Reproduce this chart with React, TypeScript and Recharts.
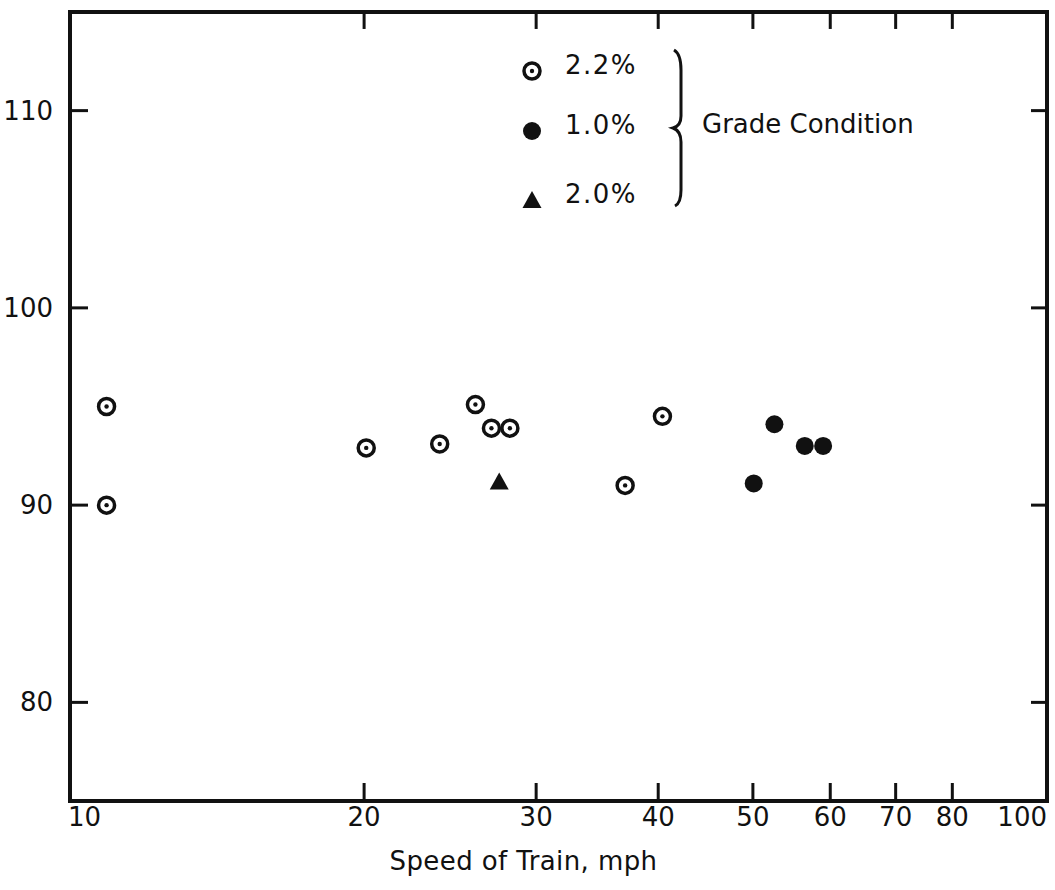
import React from 'react';
import { ScatterChart, Scatter, XAxis, YAxis, Legend, ReferenceLine } from 'recharts';

// speed of train (mph) on a log axis, value on a linear axis
const speedTicks = [10, 20, 30, 40, 50, 60, 70, 80, 100];
const valueTicks = [80, 90, 100, 110];
const speedDomain = [10, 100];
const valueDomain = [75, 115];

const grade22Speed = [10.9, 10.9, 20.1, 23.9, 26.0, 27.0, 28.2, 37.0, 40.4];
const grade22Value = [95.0, 90.0, 92.9, 93.1, 95.1, 93.9, 93.9, 91.0, 94.5];

const grade10Speed = [50.1, 52.6, 56.5, 59.0];
const grade10Value = [91.1, 94.1, 93.0, 93.0];

const grade20Speed = [27.5];
const grade20Value = [91.2];

const toPoints = (xs: number[], ys: number[]) => xs.map((speed, i) => ({ speed, value: ys[i] }));

const FONT = '"DejaVu Sans", sans-serif';
const INK = '#111';

const DotCircle = (props: any) => (
  <g>
    <circle cx={props.cx} cy={props.cy} r={8} fill="#fff" stroke={INK} strokeWidth={3.5} />
    <circle cx={props.cx} cy={props.cy} r={2.2} fill={INK} />
  </g>
);

const FilledCircle = (props: any) => <circle cx={props.cx} cy={props.cy} r={9} fill={INK} />;

const FilledTriangle = (props: any) => {
  const { cx, cy } = props;
  return <polygon points={`${cx},${cy - 9} ${cx - 9.5},${cy + 8} ${cx + 9.5},${cy + 8}`} fill={INK} />;
};

const seriesList = [
  { name: '2.2%', shape: DotCircle, data: toPoints(grade22Speed, grade22Value) },
  { name: '1.0%', shape: FilledCircle, data: toPoints(grade10Speed, grade10Value) },
  { name: '2.0%', shape: FilledTriangle, data: toPoints(grade20Speed, grade20Value) },
];

const SpeedTick = (props: any) => {
  const { x, y, payload } = props;
  const first = payload.value === speedTicks[0];
  const last = payload.value === speedTicks[speedTicks.length - 1];
  const anchor = first ? 'start' : last ? 'end' : 'middle';
  return (
    <text x={first ? x - 2 : x} y={y + 19} textAnchor={anchor} fontFamily={FONT} fontSize={26} fill={INK}>
      {payload.value}
    </text>
  );
};

const ValueTick = (props: any) => (
  <text x={props.x} y={props.y + 9} textAnchor="end" fontFamily={FONT} fontSize={26} fill={INK}>
    {props.payload.value}
  </text>
);

const NoLabel = () => <g />;

const rowY = [31, 91, 160];

const GradeLegend = (props: any) => {
  const names = (props.payload || []).map((e: any) => e.value);
  const rows = seriesList.filter((s) => names.includes(s.name));
  return (
    <svg width={440} height={180} style={{ overflow: 'visible' }}>
      {rows.map((s, i) => {
        const Shape = s.shape;
        return (
          <g key={s.name}>
            <Shape cx={17} cy={rowY[i]} />
            <text x={50} y={rowY[i] + 3} fontFamily={FONT} fontSize={26} letterSpacing={1.5} fill={INK}>
              {s.name}
            </text>
          </g>
        );
      })}
      <path
        d="M 159 10 Q 166 14 166 30 L 166 76 Q 166 86 158 88 Q 166 91 166 102 L 166 150 Q 166 163 160 166"
        fill="none"
        stroke={INK}
        strokeWidth={3}
      />
      <text x={187} y={93} fontFamily={FONT} fontSize={26} fill={INK}>
        Grade Condition
      </text>
    </svg>
  );
};

const frame = { stroke: INK, strokeWidth: 4, strokeLinecap: 'square' as const };
const tickStroke = { stroke: INK, strokeWidth: 3 };

export default function App() {
  const top = valueDomain[1];
  return (
    <div style={{ position: 'absolute', left: 0, top: 0, background: '#fff' }}>
      <ScatterChart width={1055} height={890} margin={{ top: 12, right: 0, bottom: 0, left: 0 }}>
        <XAxis
          xAxisId="bottom"
          dataKey="speed"
          type="number"
          scale="log"
          domain={speedDomain}
          allowDataOverflow
          ticks={speedTicks}
          interval={0}
          height={89}
          axisLine={frame}
          tickLine={tickStroke}
          tickSize={-18}
          tickMargin={24}
          tick={SpeedTick}
          label={{
            content: (p: any) => (
              <text
                x={p.viewBox.x + p.viewBox.width / 2 - 35}
                y={p.viewBox.y + 69}
                textAnchor="middle"
                fontFamily={FONT}
                fontSize={26}
                letterSpacing={0.4}
                fill={INK}
              >
                Speed of Train, mph
              </text>
            ),
          }}
        />
        <YAxis
          yAxisId="left"
          dataKey="value"
          type="number"
          domain={valueDomain}
          allowDataOverflow
          ticks={valueTicks}
          interval={0}
          width={70}
          axisLine={frame}
          tickLine={tickStroke}
          tickSize={-18}
          tickMargin={35}
          tick={ValueTick}
        />
        <YAxis
          yAxisId="right"
          orientation="right"
          type="number"
          domain={valueDomain}
          allowDataOverflow
          ticks={valueTicks}
          interval={0}
          width={8}
          axisLine={frame}
          tickLine={tickStroke}
          tickSize={-16}
          tick={NoLabel}
        />
        {/* top edge of the frame with its inward speed ticks */}
        <ReferenceLine xAxisId="bottom" yAxisId="left" y={top} stroke={INK} strokeWidth={4} />
        {speedTicks.slice(1, -1).map((s) => (
          <ReferenceLine
            key={s}
            xAxisId="bottom"
            yAxisId="left"
            segment={[
              { x: s, y: top },
              { x: s, y: top - 0.86 },
            ]}
            stroke={INK}
            strokeWidth={3}
          />
        ))}
        {seriesList.map((s) => (
          <Scatter
            key={s.name}
            name={s.name}
            data={s.data}
            xAxisId="bottom"
            yAxisId="left"
            fill={INK}
            shape={s.shape}
            isAnimationActive={false}
          />
        ))}
        <Legend
          layout="horizontal"
          verticalAlign="middle"
          align="center"
          wrapperStyle={{ left: 515, top: 40, width: 440, height: 180 }}
          content={GradeLegend}
        />
      </ScatterChart>
    </div>
  );
}
